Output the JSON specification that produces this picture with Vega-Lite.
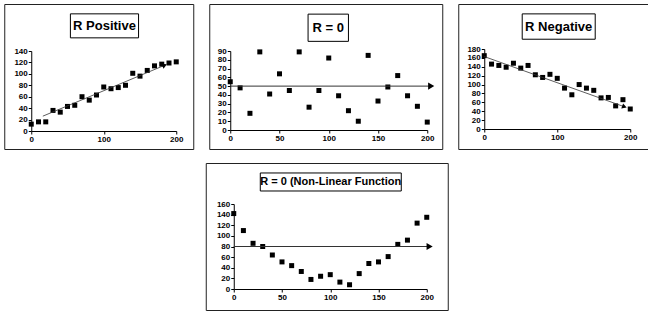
{
  "$schema": "https://vega.github.io/schema/vega-lite/v6.json",
  "padding": {"left": 3, "top": 3, "right": 0, "bottom": 0},
  "background": "white",
  "spacing": 12,
  "center": true,
  "datasets": {
    "pos": [
      {"x": 0, "y": 12}, {"x": 10, "y": 16}, {"x": 20, "y": 16}, {"x": 30, "y": 36}, {"x": 40, "y": 33},
      {"x": 50, "y": 43}, {"x": 60, "y": 45}, {"x": 70, "y": 60}, {"x": 80, "y": 54}, {"x": 90, "y": 63},
      {"x": 100, "y": 77}, {"x": 110, "y": 74}, {"x": 120, "y": 76}, {"x": 130, "y": 80}, {"x": 140, "y": 101},
      {"x": 150, "y": 96}, {"x": 160, "y": 106}, {"x": 170, "y": 114}, {"x": 180, "y": 117}, {"x": 190, "y": 119},
      {"x": 200, "y": 121}
    ],
    "posLine": [{"x": 16, "y": 26}, {"x": 184, "y": 115}],
    "posArrow": [{"x": 184, "y": 115}],
    "zero": [
      {"x": 0, "y": 55}, {"x": 10, "y": 48}, {"x": 20, "y": 19}, {"x": 30, "y": 89}, {"x": 40, "y": 41},
      {"x": 50, "y": 64}, {"x": 60, "y": 45}, {"x": 70, "y": 89}, {"x": 80, "y": 26}, {"x": 90, "y": 45},
      {"x": 100, "y": 82}, {"x": 110, "y": 39}, {"x": 120, "y": 22}, {"x": 130, "y": 10}, {"x": 140, "y": 85},
      {"x": 150, "y": 33}, {"x": 160, "y": 49}, {"x": 170, "y": 62}, {"x": 180, "y": 39}, {"x": 190, "y": 27},
      {"x": 200, "y": 9}
    ],
    "zeroLine": [{"x": 0, "y": 50}, {"x": 204, "y": 50}],
    "zeroArrow": [{"x": 204, "y": 50}],
    "neg": [
      {"x": 0, "y": 165}, {"x": 10, "y": 146}, {"x": 20, "y": 143}, {"x": 30, "y": 139}, {"x": 40, "y": 148},
      {"x": 50, "y": 137}, {"x": 60, "y": 143}, {"x": 70, "y": 122}, {"x": 80, "y": 116}, {"x": 90, "y": 123},
      {"x": 100, "y": 114}, {"x": 110, "y": 92}, {"x": 120, "y": 77}, {"x": 130, "y": 100}, {"x": 140, "y": 92},
      {"x": 150, "y": 87}, {"x": 160, "y": 70}, {"x": 170, "y": 71}, {"x": 180, "y": 52}, {"x": 190, "y": 66},
      {"x": 200, "y": 45}
    ],
    "negLine": [{"x": 0, "y": 163}, {"x": 192, "y": 50}],
    "negArrow": [{"x": 192, "y": 50}],
    "nonlin": [
      {"x": 0, "y": 142}, {"x": 10, "y": 110}, {"x": 20, "y": 86}, {"x": 30, "y": 80}, {"x": 40, "y": 64},
      {"x": 50, "y": 51}, {"x": 60, "y": 44}, {"x": 70, "y": 33}, {"x": 80, "y": 18}, {"x": 90, "y": 24},
      {"x": 100, "y": 27}, {"x": 110, "y": 13}, {"x": 120, "y": 8}, {"x": 130, "y": 29}, {"x": 140, "y": 48},
      {"x": 150, "y": 51}, {"x": 160, "y": 61}, {"x": 170, "y": 84}, {"x": 180, "y": 92}, {"x": 190, "y": 124},
      {"x": 200, "y": 135}
    ],
    "nonlinLine": [{"x": 0, "y": 80}, {"x": 203, "y": 80}],
    "nonlinArrow": [{"x": 203, "y": 80}]
  },
  "vconcat": [
    {
      "hconcat": [
        {
          "width": 189, "height": 145,
          "layer": [
            {"data": {"name": "pos"}, "mark": {"type": "point", "shape": "square", "filled": true, "color": "#000", "opacity": 1, "size": 25},
             "encoding": {
               "x": {"field": "x", "type": "quantitative", "scale": {"domain": [0, 200], "range": [27, 172], "nice": false, "zero": false}, "axis": {"title": null, "values": [0, 100, 200], "offset": -18}},
               "y": {"field": "y", "type": "quantitative", "scale": {"domain": [0, 140], "range": [127, 47], "nice": false, "zero": false}, "axis": {"title": null, "values": [0, 20, 40, 60, 80, 100, 120, 140], "offset": -27}}}},
            {"data": {"name": "posLine"}, "mark": {"type": "line", "color": "#333", "strokeWidth": 0.8},
             "encoding": {"x": {"field": "x", "type": "quantitative", "axis": {"title": null, "values": [0, 100, 200], "offset": -18}}, "y": {"field": "y", "type": "quantitative", "axis": {"title": null, "values": [0, 20, 40, 60, 80, 100, 120, 140], "offset": -27}}}},
            {"data": {"name": "posArrow"}, "mark": {"type": "point", "shape": "triangle-right", "filled": true, "color": "#000", "opacity": 1, "size": 30, "angle": 337},
             "encoding": {"x": {"field": "x", "type": "quantitative", "axis": {"title": null, "values": [0, 100, 200], "offset": -18}}, "y": {"field": "y", "type": "quantitative", "axis": {"title": null, "values": [0, 20, 40, 60, 80, 100, 120, 140], "offset": -27}}}},
            {"data": {"values": [{"label": "R Positive"}]}, "mark": {"type": "rect", "fill": "#fff", "stroke": "#000", "strokeWidth": 1},
             "encoding": {"x": {"datum": 54, "type": "quantitative", "axis": {"title": null, "values": [0, 100, 200], "offset": -18}}, "x2": {"datum": 148}, "y": {"datum": 205, "type": "quantitative", "axis": {"title": null, "values": [0, 20, 40, 60, 80, 100, 120, 140], "offset": -27}}, "y2": {"datum": 163}}},
            {"data": {"values": [{"label": "R Positive"}]}, "mark": {"type": "text", "font": "Liberation Sans", "fontWeight": "bold", "fontSize": 13, "color": "#000", "baseline": "middle", "align": "center"},
             "encoding": {"text": {"field": "label"}, "x": {"datum": 101, "type": "quantitative", "axis": {"title": null, "values": [0, 100, 200], "offset": -18}}, "y": {"datum": 184, "type": "quantitative", "axis": {"title": null, "values": [0, 20, 40, 60, 80, 100, 120, 140], "offset": -27}}}}
          ]
        },
        {
          "width": 233, "height": 145,
          "layer": [
            {"data": {"name": "zero"}, "mark": {"type": "point", "shape": "square", "filled": true, "color": "#000", "opacity": 1, "size": 25},
             "encoding": {
               "x": {"field": "x", "type": "quantitative", "scale": {"domain": [0, 200], "range": [21, 218], "nice": false, "zero": false}, "axis": {"title": null, "values": [0, 50, 100, 150, 200], "offset": -19}},
               "y": {"field": "y", "type": "quantitative", "scale": {"domain": [0, 90], "range": [126, 47], "nice": false, "zero": false}, "axis": {"title": null, "values": [0, 10, 20, 30, 40, 50, 60, 70, 80, 90], "offset": -21}}}},
            {"data": {"name": "zeroLine"}, "mark": {"type": "line", "color": "#333", "strokeWidth": 1},
             "encoding": {"x": {"field": "x", "type": "quantitative", "axis": {"title": null, "values": [0, 50, 100, 150, 200], "offset": -19}}, "y": {"field": "y", "type": "quantitative", "axis": {"title": null, "values": [0, 10, 20, 30, 40, 50, 60, 70, 80, 90], "offset": -21}}}},
            {"data": {"name": "zeroArrow"}, "mark": {"type": "point", "shape": "triangle-right", "filled": true, "color": "#000", "opacity": 1, "size": 50},
             "encoding": {"x": {"field": "x", "type": "quantitative", "axis": {"title": null, "values": [0, 50, 100, 150, 200], "offset": -19}}, "y": {"field": "y", "type": "quantitative", "axis": {"title": null, "values": [0, 10, 20, 30, 40, 50, 60, 70, 80, 90], "offset": -21}}}},
            {"data": {"values": [{"label": "R = 0"}]}, "mark": {"type": "rect", "fill": "#fff", "stroke": "#000", "strokeWidth": 1},
             "encoding": {"x": {"datum": 79, "type": "quantitative", "axis": {"title": null, "values": [0, 50, 100, 150, 200], "offset": -19}}, "x2": {"datum": 120}, "y": {"datum": 132, "type": "quantitative", "axis": {"title": null, "values": [0, 10, 20, 30, 40, 50, 60, 70, 80, 90], "offset": -21}}, "y2": {"datum": 101}}},
            {"data": {"values": [{"label": "R = 0"}]}, "mark": {"type": "text", "font": "Liberation Sans", "fontWeight": "bold", "fontSize": 13, "color": "#000", "baseline": "middle", "align": "center"},
             "encoding": {"text": {"field": "label"}, "x": {"datum": 99.5, "type": "quantitative", "axis": {"title": null, "values": [0, 50, 100, 150, 200], "offset": -19}}, "y": {"datum": 116.5, "type": "quantitative", "axis": {"title": null, "values": [0, 10, 20, 30, 40, 50, 60, 70, 80, 90], "offset": -21}}}}
          ]
        },
        {
          "width": 191, "height": 145,
          "layer": [
            {"data": {"name": "neg"}, "mark": {"type": "point", "shape": "square", "filled": true, "color": "#000", "opacity": 1, "size": 25},
             "encoding": {
               "x": {"field": "x", "type": "quantitative", "scale": {"domain": [0, 200], "range": [26, 172], "nice": false, "zero": false}, "axis": {"title": null, "values": [0, 100, 200], "offset": -20}},
               "y": {"field": "y", "type": "quantitative", "scale": {"domain": [0, 180], "range": [125, 45], "nice": false, "zero": false}, "axis": {"title": null, "values": [0, 20, 40, 60, 80, 100, 120, 140, 160, 180], "offset": -26}}}},
            {"data": {"name": "negLine"}, "mark": {"type": "line", "color": "#333", "strokeWidth": 0.8},
             "encoding": {"x": {"field": "x", "type": "quantitative", "axis": {"title": null, "values": [0, 100, 200], "offset": -20}}, "y": {"field": "y", "type": "quantitative", "axis": {"title": null, "values": [0, 20, 40, 60, 80, 100, 120, 140, 160, 180], "offset": -26}}}},
            {"data": {"name": "negArrow"}, "mark": {"type": "point", "shape": "triangle-right", "filled": true, "color": "#000", "opacity": 1, "size": 30, "angle": 20},
             "encoding": {"x": {"field": "x", "type": "quantitative", "axis": {"title": null, "values": [0, 100, 200], "offset": -20}}, "y": {"field": "y", "type": "quantitative", "axis": {"title": null, "values": [0, 20, 40, 60, 80, 100, 120, 140, 160, 180], "offset": -26}}}},
            {"data": {"values": [{"label": "R Negative"}]}, "mark": {"type": "rect", "fill": "#fff", "stroke": "#000", "strokeWidth": 1},
             "encoding": {"x": {"datum": 52, "type": "quantitative", "axis": {"title": null, "values": [0, 100, 200], "offset": -20}}, "x2": {"datum": 152}, "y": {"datum": 259, "type": "quantitative", "axis": {"title": null, "values": [0, 20, 40, 60, 80, 100, 120, 140, 160, 180], "offset": -26}}, "y2": {"datum": 202}}},
            {"data": {"values": [{"label": "R Negative"}]}, "mark": {"type": "text", "font": "Liberation Sans", "fontWeight": "bold", "fontSize": 13, "color": "#000", "baseline": "middle", "align": "center"},
             "encoding": {"text": {"field": "label"}, "x": {"datum": 102, "type": "quantitative", "axis": {"title": null, "values": [0, 100, 200], "offset": -20}}, "y": {"datum": 230.5, "type": "quantitative", "axis": {"title": null, "values": [0, 20, 40, 60, 80, 100, 120, 140, 160, 180], "offset": -26}}}}
          ]
        }
      ],
      "spacing": 14
    },
    {
      "width": 242, "height": 147,
      "layer": [
        {"data": {"name": "nonlin"}, "mark": {"type": "point", "shape": "square", "filled": true, "color": "#000", "opacity": 1, "size": 25},
         "encoding": {
           "x": {"field": "x", "type": "quantitative", "scale": {"domain": [0, 200], "range": [28, 221], "nice": false, "zero": false}, "axis": {"title": null, "values": [0, 50, 100, 150, 200], "offset": -21}},
           "y": {"field": "y", "type": "quantitative", "scale": {"domain": [0, 160], "range": [126, 41], "nice": false, "zero": false}, "axis": {"title": null, "values": [0, 20, 40, 60, 80, 100, 120, 140, 160], "offset": -28}}}},
        {"data": {"name": "nonlinLine"}, "mark": {"type": "line", "color": "#333", "strokeWidth": 1},
         "encoding": {"x": {"field": "x", "type": "quantitative", "axis": {"title": null, "values": [0, 50, 100, 150, 200], "offset": -21}}, "y": {"field": "y", "type": "quantitative", "axis": {"title": null, "values": [0, 20, 40, 60, 80, 100, 120, 140, 160], "offset": -28}}}},
        {"data": {"name": "nonlinArrow"}, "mark": {"type": "point", "shape": "triangle-right", "filled": true, "color": "#000", "opacity": 1, "size": 50},
         "encoding": {"x": {"field": "x", "type": "quantitative", "axis": {"title": null, "values": [0, 50, 100, 150, 200], "offset": -21}}, "y": {"field": "y", "type": "quantitative", "axis": {"title": null, "values": [0, 20, 40, 60, 80, 100, 120, 140, 160], "offset": -28}}}},
        {"data": {"values": [{"label": "R = 0 (Non-Linear Function"}]}, "mark": {"type": "rect", "fill": "#fff", "stroke": "#000", "strokeWidth": 1},
         "encoding": {"x": {"datum": 27.5, "type": "quantitative", "axis": {"title": null, "values": [0, 50, 100, 150, 200], "offset": -21}}, "x2": {"datum": 173.6}, "y": {"datum": 218.4, "type": "quantitative", "axis": {"title": null, "values": [0, 20, 40, 60, 80, 100, 120, 140, 160], "offset": -28}}, "y2": {"datum": 184.5}}},
        {"data": {"values": [{"label": "R = 0 (Non-Linear Function"}]}, "mark": {"type": "text", "font": "Liberation Sans", "fontWeight": "bold", "fontSize": 11, "color": "#000", "baseline": "middle", "align": "center"},
         "encoding": {"text": {"field": "label"}, "x": {"datum": 100.5, "type": "quantitative", "axis": {"title": null, "values": [0, 50, 100, 150, 200], "offset": -21}}, "y": {"datum": 201.5, "type": "quantitative", "axis": {"title": null, "values": [0, 20, 40, 60, 80, 100, 120, 140, 160], "offset": -28}}}}
      ]
    }
  ],
  "config": {
    "font": "Liberation Sans",
    "view": {"stroke": "#222", "strokeWidth": 1},
    "axis": {
      "labelFont": "Liberation Sans", "labelFontWeight": "bold", "labelFontSize": 8, "labelColor": "#000",
      "domainColor": "#000", "domainWidth": 1, "tickColor": "#000", "tickWidth": 1, "tickSize": 3,
      "labelPadding": 1, "grid": false, "labelOverlap": false, "labelFlush": false
    }
  }
}
